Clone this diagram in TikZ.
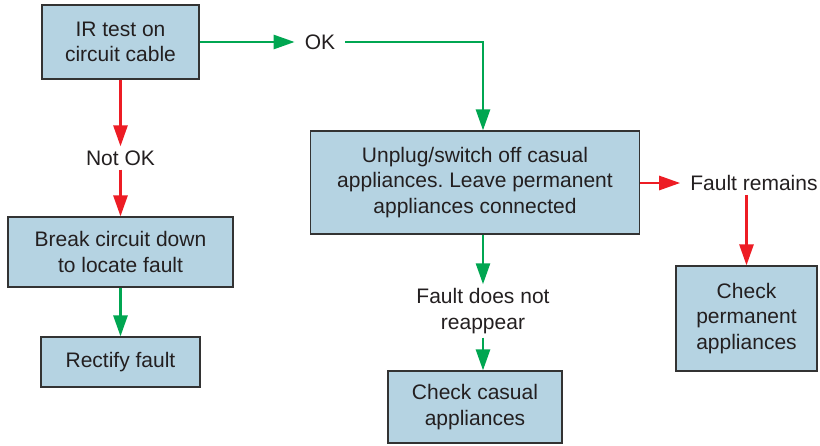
\documentclass[tikz,border=0pt]{standalone}
\usepackage{fontspec}
\setmainfont{Liberation Sans}
\usepackage{tikz}
\usetikzlibrary{arrows.meta,positioning}
\definecolor{irfill}{RGB}{181,211,226}
\definecolor{irline}{RGB}{51,51,51}
\definecolor{irtext}{RGB}{35,31,32}
\definecolor{irgreen}{RGB}{0,166,81}
\definecolor{irred}{RGB}{237,28,36}
\tikzset{
  irbox/.style={draw=irline, line width=1.2pt, fill=irfill, align=center, text=irtext, inner sep=2pt},
  irlabel/.style={align=center, text=irtext, inner xsep=10pt, inner ysep=4pt},
  irarrgreen/.style={-{Triangle[length=21pt, width=14pt]}, line width=2.7pt, draw=irgreen},
  irarrred/.style={-{Triangle[length=21pt, width=14pt]}, line width=2.7pt, draw=irred}
}
\frenchspacing

\begin{document}
\begin{tikzpicture}[x=1pt, y=-1pt, font=\fontsize{21}{25.5}\selectfont]
  \useasboundingbox (0,0) rectangle (820,445);
  % boxes
  \node[irbox, minimum width=157pt, minimum height=74pt] (irtest) at (120.5,42) {IR test on\\circuit cable};
  \node[irbox, minimum width=225pt, minimum height=70pt] (breakdown) at (120.5,252) {Break circuit down\\to locate fault};
  \node[irbox, minimum width=159pt, minimum height=50pt] (rectify) at (120.5,362) {Rectify fault};
  \node[irbox, minimum width=329pt, minimum height=103pt] (unplug) at (475,182.5) {Unplug/switch off casual\\appliances. Leave permanent\\appliances connected};
  \node[irbox, minimum width=141pt, minimum height=105pt] (checkperm) at (746.5,318.5) {Check\\permanent\\appliances};
  \node[irbox, minimum width=174pt, minimum height=72pt] (checkcas) at (475,407) {Check casual\\appliances};
  % labels
  \node[irlabel] (ok) at (320,42) {OK};
  \node[irlabel] (notok) at (120.5,158) {Not OK};
  \node[irlabel] (remains) at (754,183) {Fault remains};
  \node[irlabel] (noshow) at (483,311) {Fault does not\\reappear};
  % connectors
  \draw[irarrgreen] (irtest) -- (ok);
  \draw[irarrgreen] (ok.east) -| (unplug.north -| noshow);
  \draw[irarrred] (irtest) -- (notok);
  \draw[irarrred] (notok) -- (breakdown);
  \draw[irarrgreen] (breakdown) -- (rectify);
  \draw[irarrred] (unplug.east |- remains) -- (remains);
  \draw[irarrred] (remains.south -| checkperm.north) -- (checkperm.north);
  \draw[irarrgreen] (unplug.south -| noshow) -- (noshow);
  \draw[irarrgreen] (noshow.south) -- (checkcas.north -| noshow);
\end{tikzpicture}
\end{document}
